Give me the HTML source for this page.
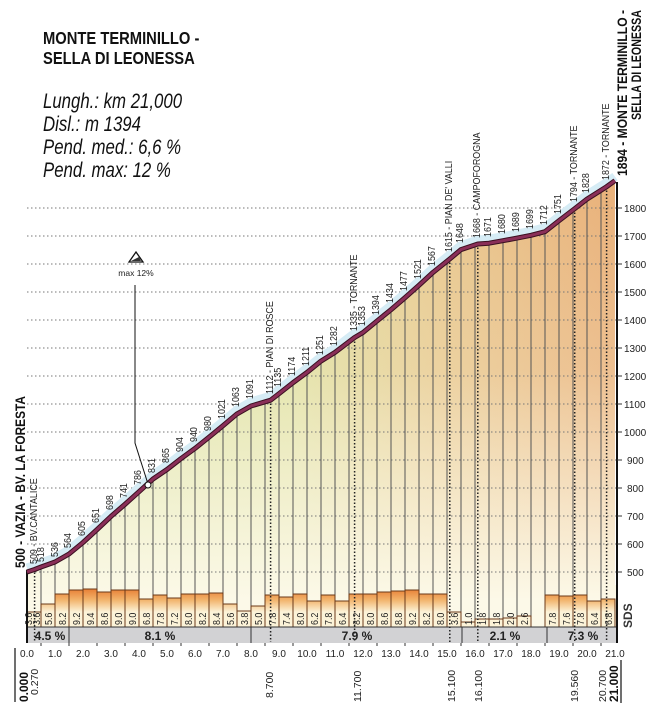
<!DOCTYPE html>
<html><head><meta charset="utf-8"><style>
html,body{margin:0;padding:0;background:#fff;}
svg{display:block;font-family:"Liberation Sans",sans-serif;}
.n{font-size:10.5px;fill:#222;}
.t{font-size:10px;fill:#222;}
</style></head><body>
<svg width="648" height="716" viewBox="0 0 648 716" xmlns="http://www.w3.org/2000/svg">
<defs>
<linearGradient id="hg" x1="27" y1="0" x2="617" y2="0" gradientUnits="userSpaceOnUse">
<stop offset="0" stop-color="#d9e4a6"/><stop offset="0.45" stop-color="#dfe0a0"/><stop offset="0.7" stop-color="#e8c88e"/><stop offset="1" stop-color="#e9b079"/>
</linearGradient>
<linearGradient id="vg" x1="0" y1="180" x2="0" y2="600" gradientUnits="userSpaceOnUse">
<stop offset="0" stop-color="#fcf9e8" stop-opacity="0"/><stop offset="0.45" stop-color="#fcf9e8" stop-opacity="0.2"/><stop offset="1" stop-color="#fcf9e8" stop-opacity="1"/>
</linearGradient>
<linearGradient id="bg" x1="0" y1="588" x2="0" y2="612" gradientUnits="userSpaceOnUse">
<stop offset="0" stop-color="#e77a30"/><stop offset="0.5" stop-color="#f2b46c"/><stop offset="1" stop-color="#fcf3d8"/>
</linearGradient>
</defs>

<g transform="translate(43,44) scale(0.82,1)"><text font-size="18" font-weight="bold" fill="#111">MONTE TERMINILLO -</text></g>
<g transform="translate(43,64) scale(0.82,1)"><text font-size="18" font-weight="bold" fill="#111">SELLA DI LEONESSA</text></g>
<g font-size="21" font-style="italic" fill="#111">
<g transform="translate(43,108) scale(0.8,1)"><text>Lungh.: km 21,000</text></g>
<g transform="translate(43,131) scale(0.8,1)"><text>Disl.: m 1394</text></g>
<g transform="translate(43,154) scale(0.8,1)"><text>Pend. med.: 6,6 %</text></g>
<g transform="translate(43,177) scale(0.8,1)"><text>Pend. max: 12 %</text></g>
</g>

<rect x="27" y="585" width="590" height="42" fill="#fcf8e6"/>

<polygon fill="url(#hg)" points="27,572 34.6,569.5 41,567 55,562 69,554 83,542.5 97,529.6 111,516.4 125,504.3 139,491.7 153,479 167,469.5 181,458.6 195,448.4 209,437.2 223,425.7 237,413.9 251,406 270.6,400.2 279,393.7 293,382.7 307,372.4 321,361.1 335,352.4 354.6,337.5 363,332.5 377,321 391,309.7 405,297.7 419,285.3 433,272.4 449.8,258.9 461,249.6 477.8,244 489,243.2 503,240.7 517,238.1 531,235.3 545,231.7 559,220.7 574.7,208.7 587,199.1 606.6,186.7 615,180.6 615,627 27,627"/>
<polygon fill="url(#vg)" points="27,572 34.6,569.5 41,567 55,562 69,554 83,542.5 97,529.6 111,516.4 125,504.3 139,491.7 153,479 167,469.5 181,458.6 195,448.4 209,437.2 223,425.7 237,413.9 251,406 270.6,400.2 279,393.7 293,382.7 307,372.4 321,361.1 335,352.4 354.6,337.5 363,332.5 377,321 391,309.7 405,297.7 419,285.3 433,272.4 449.8,258.9 461,249.6 477.8,244 489,243.2 503,240.7 517,238.1 531,235.3 545,231.7 559,220.7 574.7,208.7 587,199.1 606.6,186.7 615,180.6 615,627 27,627"/>

<g stroke="#777" stroke-width="1" stroke-dasharray="1.5 2.5">
<line x1="27" y1="208" x2="617" y2="208"/><line x1="27" y1="236" x2="617" y2="236"/><line x1="27" y1="264" x2="617" y2="264"/><line x1="27" y1="292" x2="617" y2="292"/><line x1="27" y1="320" x2="617" y2="320"/><line x1="27" y1="348" x2="617" y2="348"/><line x1="27" y1="376" x2="617" y2="376"/><line x1="27" y1="404" x2="617" y2="404"/><line x1="27" y1="432" x2="617" y2="432"/><line x1="27" y1="460" x2="617" y2="460"/><line x1="27" y1="488" x2="617" y2="488"/><line x1="27" y1="516" x2="617" y2="516"/><line x1="27" y1="544" x2="617" y2="544"/><line x1="27" y1="572" x2="617" y2="572"/>
</g>

<g stroke="#555" stroke-width="1">
<line x1="41" y1="567" x2="41" y2="627"/><line x1="55" y1="562" x2="55" y2="627"/><line x1="69" y1="554" x2="69" y2="627"/><line x1="83" y1="542" x2="83" y2="627"/><line x1="97" y1="530" x2="97" y2="627"/><line x1="111" y1="516" x2="111" y2="627"/><line x1="125" y1="504" x2="125" y2="627"/><line x1="139" y1="492" x2="139" y2="627"/><line x1="153" y1="479" x2="153" y2="627"/><line x1="167" y1="469" x2="167" y2="627"/><line x1="181" y1="458" x2="181" y2="627"/><line x1="195" y1="448" x2="195" y2="627"/><line x1="209" y1="437" x2="209" y2="627"/><line x1="223" y1="426" x2="223" y2="627"/><line x1="237" y1="414" x2="237" y2="627"/><line x1="251" y1="406" x2="251" y2="627"/><line x1="265" y1="402" x2="265" y2="627"/><line x1="279" y1="394" x2="279" y2="627"/><line x1="293" y1="383" x2="293" y2="627"/><line x1="307" y1="372" x2="307" y2="627"/><line x1="321" y1="361" x2="321" y2="627"/><line x1="335" y1="352" x2="335" y2="627"/><line x1="349" y1="342" x2="349" y2="627"/><line x1="363" y1="332" x2="363" y2="627"/><line x1="377" y1="321" x2="377" y2="627"/><line x1="391" y1="310" x2="391" y2="627"/><line x1="405" y1="298" x2="405" y2="627"/><line x1="419" y1="285" x2="419" y2="627"/><line x1="433" y1="272" x2="433" y2="627"/><line x1="447" y1="260" x2="447" y2="627"/><line x1="461" y1="250" x2="461" y2="627"/><line x1="475" y1="244" x2="475" y2="627"/><line x1="489" y1="243" x2="489" y2="627"/><line x1="503" y1="241" x2="503" y2="627"/><line x1="517" y1="238" x2="517" y2="627"/><line x1="531" y1="235" x2="531" y2="627"/><line x1="545" y1="232" x2="545" y2="627"/><line x1="559" y1="221" x2="559" y2="627"/><line x1="573" y1="210" x2="573" y2="627"/><line x1="587" y1="199" x2="587" y2="627"/><line x1="601" y1="190" x2="601" y2="627"/>
</g>

<g fill="url(#bg)" stroke="#6b3a1a" stroke-width="1">
<rect x="27" y="612" width="14" height="15"/><rect x="41" y="604" width="14" height="23"/><rect x="55" y="594" width="14" height="33"/><rect x="69" y="590" width="14" height="37"/><rect x="83" y="589" width="14" height="38"/><rect x="97" y="592" width="14" height="35"/><rect x="111" y="590" width="14" height="37"/><rect x="125" y="590" width="14" height="37"/><rect x="139" y="599" width="14" height="28"/><rect x="153" y="595" width="14" height="32"/><rect x="167" y="598" width="14" height="29"/><rect x="181" y="594" width="14" height="33"/><rect x="195" y="594" width="14" height="33"/><rect x="209" y="593" width="14" height="34"/><rect x="223" y="604" width="14" height="23"/><rect x="237" y="611" width="14" height="16"/><rect x="251" y="606" width="14" height="21"/><rect x="265" y="595" width="14" height="32"/><rect x="279" y="597" width="14" height="30"/><rect x="293" y="594" width="14" height="33"/><rect x="307" y="601" width="14" height="26"/><rect x="321" y="595" width="14" height="32"/><rect x="335" y="601" width="14" height="26"/><rect x="349" y="594" width="14" height="33"/><rect x="363" y="594" width="14" height="33"/><rect x="377" y="592" width="14" height="35"/><rect x="391" y="591" width="14" height="36"/><rect x="405" y="590" width="14" height="37"/><rect x="419" y="594" width="14" height="33"/><rect x="433" y="594" width="14" height="33"/><rect x="447" y="612" width="14" height="15"/><rect x="461" y="622" width="14" height="5"/><rect x="475" y="619" width="14" height="8"/><rect x="489" y="619" width="14" height="8"/><rect x="503" y="618" width="14" height="9"/><rect x="517" y="616" width="14" height="11"/><rect x="545" y="595" width="14" height="32"/><rect x="559" y="596" width="14" height="31"/><rect x="573" y="595" width="14" height="32"/><rect x="587" y="601" width="14" height="26"/><rect x="601" y="599" width="14" height="28"/>
</g>

<g class="n" font-size="10">
<text transform="translate(32,625) rotate(-90) scale(0.85,1)">3.6</text>
<text transform="translate(40,625) rotate(-90) scale(0.85,1)">3.6</text>
<text transform="translate(52,625) rotate(-90) scale(0.85,1)">5.6</text>
<text transform="translate(66,625) rotate(-90) scale(0.85,1)">8.2</text>
<text transform="translate(80,625) rotate(-90) scale(0.85,1)">9.2</text>
<text transform="translate(94,625) rotate(-90) scale(0.85,1)">9.4</text>
<text transform="translate(108,625) rotate(-90) scale(0.85,1)">8.6</text>
<text transform="translate(122,625) rotate(-90) scale(0.85,1)">9.0</text>
<text transform="translate(136,625) rotate(-90) scale(0.85,1)">9.0</text>
<text transform="translate(150,625) rotate(-90) scale(0.85,1)">6.8</text>
<text transform="translate(164,625) rotate(-90) scale(0.85,1)">7.8</text>
<text transform="translate(178,625) rotate(-90) scale(0.85,1)">7.2</text>
<text transform="translate(192,625) rotate(-90) scale(0.85,1)">8.0</text>
<text transform="translate(206,625) rotate(-90) scale(0.85,1)">8.2</text>
<text transform="translate(220,625) rotate(-90) scale(0.85,1)">8.4</text>
<text transform="translate(234,625) rotate(-90) scale(0.85,1)">5.6</text>
<text transform="translate(248,625) rotate(-90) scale(0.85,1)">3.8</text>
<text transform="translate(262,625) rotate(-90) scale(0.85,1)">5.0</text>
<text transform="translate(276,625) rotate(-90) scale(0.85,1)">7.8</text>
<text transform="translate(290,625) rotate(-90) scale(0.85,1)">7.4</text>
<text transform="translate(304,625) rotate(-90) scale(0.85,1)">8.0</text>
<text transform="translate(318,625) rotate(-90) scale(0.85,1)">6.2</text>
<text transform="translate(332,625) rotate(-90) scale(0.85,1)">7.8</text>
<text transform="translate(346,625) rotate(-90) scale(0.85,1)">6.4</text>
<text transform="translate(360,625) rotate(-90) scale(0.85,1)">8.2</text>
<text transform="translate(374,625) rotate(-90) scale(0.85,1)">8.0</text>
<text transform="translate(388,625) rotate(-90) scale(0.85,1)">8.6</text>
<text transform="translate(402,625) rotate(-90) scale(0.85,1)">8.8</text>
<text transform="translate(416,625) rotate(-90) scale(0.85,1)">9.2</text>
<text transform="translate(430,625) rotate(-90) scale(0.85,1)">8.2</text>
<text transform="translate(444,625) rotate(-90) scale(0.85,1)">8.0</text>
<text transform="translate(458,625) rotate(-90) scale(0.85,1)">3.6</text>
<text transform="translate(472,625) rotate(-90) scale(0.85,1)">1.0</text>
<text transform="translate(486,625) rotate(-90) scale(0.85,1)">1.8</text>
<text transform="translate(500,625) rotate(-90) scale(0.85,1)">1.8</text>
<text transform="translate(514,625) rotate(-90) scale(0.85,1)">2.0</text>
<text transform="translate(528,625) rotate(-90) scale(0.85,1)">2.6</text>
<text transform="translate(556,625) rotate(-90) scale(0.85,1)">7.8</text>
<text transform="translate(570,625) rotate(-90) scale(0.85,1)">7.6</text>
<text transform="translate(584,625) rotate(-90) scale(0.85,1)">7.8</text>
<text transform="translate(598,625) rotate(-90) scale(0.85,1)">6.4</text>
<text transform="translate(612,625) rotate(-90) scale(0.85,1)">6.8</text>
</g>

<rect x="27" y="627" width="590" height="16" fill="#d2d2d4"/>
<line x1="27" y1="627" x2="617" y2="627" stroke="#333"/>
<g stroke="#333"><line x1="69" y1="627" x2="69" y2="643"/><line x1="251" y1="627" x2="251" y2="643"/><line x1="462" y1="627" x2="462" y2="643"/><line x1="547" y1="627" x2="547" y2="643"/></g>
<g font-size="12" font-weight="bold" fill="#222" text-anchor="middle">
<text x="50" y="640">4.5 %</text><text x="160" y="640">8.1 %</text><text x="357" y="640">7.9 %</text><text x="505" y="640">2.1 %</text><text x="583" y="640">7.3 %</text>
</g>

<g stroke="#222" stroke-width="1.5" stroke-dasharray="1.5 2">
<line x1="34.6" y1="569" x2="34.6" y2="642"/><line x1="270.6" y1="400" x2="270.6" y2="642"/><line x1="354.6" y1="338" x2="354.6" y2="642"/><line x1="449.8" y1="259" x2="449.8" y2="642"/><line x1="477.8" y1="244" x2="477.8" y2="642"/><line x1="574.7" y1="209" x2="574.7" y2="642"/><line x1="606.6" y1="187" x2="606.6" y2="642"/>
</g>

<line x1="27" y1="570" x2="27" y2="643" stroke="#111" stroke-width="2"/>
<line x1="617" y1="182" x2="617" y2="643" stroke="#111" stroke-width="2"/>

<polyline fill="none" stroke="#d6ecf5" stroke-width="9" stroke-linejoin="round" transform="translate(0,-4)" points="27,572 34.6,569.5 41,567 55,562 69,554 83,542.5 97,529.6 111,516.4 125,504.3 139,491.7 153,479 167,469.5 181,458.6 195,448.4 209,437.2 223,425.7 237,413.9 251,406 270.6,400.2 279,393.7 293,382.7 307,372.4 321,361.1 335,352.4 354.6,337.5 363,332.5 377,321 391,309.7 405,297.7 419,285.3 433,272.4 449.8,258.9 461,249.6 477.8,244 489,243.2 503,240.7 517,238.1 531,235.3 545,231.7 559,220.7 574.7,208.7 587,199.1 606.6,186.7 615,180.6"/>
<polyline fill="none" stroke="#3a1020" stroke-width="5" stroke-linejoin="round" points="27,572 34.6,569.5 41,567 55,562 69,554 83,542.5 97,529.6 111,516.4 125,504.3 139,491.7 153,479 167,469.5 181,458.6 195,448.4 209,437.2 223,425.7 237,413.9 251,406 270.6,400.2 279,393.7 293,382.7 307,372.4 321,361.1 335,352.4 354.6,337.5 363,332.5 377,321 391,309.7 405,297.7 419,285.3 433,272.4 449.8,258.9 461,249.6 477.8,244 489,243.2 503,240.7 517,238.1 531,235.3 545,231.7 559,220.7 574.7,208.7 587,199.1 606.6,186.7 615,180.6"/>
<polyline fill="none" stroke="#8a2f58" stroke-width="3" stroke-linejoin="round" points="27,572 34.6,569.5 41,567 55,562 69,554 83,542.5 97,529.6 111,516.4 125,504.3 139,491.7 153,479 167,469.5 181,458.6 195,448.4 209,437.2 223,425.7 237,413.9 251,406 270.6,400.2 279,393.7 293,382.7 307,372.4 321,361.1 335,352.4 354.6,337.5 363,332.5 377,321 391,309.7 405,297.7 419,285.3 433,272.4 449.8,258.9 461,249.6 477.8,244 489,243.2 503,240.7 517,238.1 531,235.3 545,231.7 559,220.7 574.7,208.7 587,199.1 606.6,186.7 615,180.6"/>

<polyline fill="none" stroke="#111" stroke-width="1" points="135,285 135,443 148,484"/>
<circle cx="148" cy="485" r="3" fill="#fff" stroke="#111"/>
<path d="M129,262 L136,252 L143,262 Z" fill="#fff" stroke="#111" stroke-width="1.3"/>
<path d="M131,261 L141,261 L139,257 Z" fill="#333"/>
<text x="136" y="276" font-size="8.5" text-anchor="middle" fill="#222">max 12%</text>

<g class="n">
<text transform="translate(44,562) rotate(-90) scale(0.85,1)">518</text>
<text transform="translate(58,557) rotate(-90) scale(0.85,1)">536</text>
<text transform="translate(71,548) rotate(-90) scale(0.85,1)">564</text>
<text transform="translate(85,536) rotate(-90) scale(0.85,1)">605</text>
<text transform="translate(99,523) rotate(-90) scale(0.85,1)">651</text>
<text transform="translate(113,510) rotate(-90) scale(0.85,1)">698</text>
<text transform="translate(127,498) rotate(-90) scale(0.85,1)">741</text>
<text transform="translate(141,485) rotate(-90) scale(0.85,1)">786</text>
<text transform="translate(155,473) rotate(-90) scale(0.85,1)">831</text>
<text transform="translate(169,463) rotate(-90) scale(0.85,1)">865</text>
<text transform="translate(183,452) rotate(-90) scale(0.85,1)">904</text>
<text transform="translate(197,442) rotate(-90) scale(0.85,1)">940</text>
<text transform="translate(211,431) rotate(-90) scale(0.85,1)">980</text>
<text transform="translate(225,419) rotate(-90) scale(0.85,1)">1021</text>
<text transform="translate(239,407) rotate(-90) scale(0.85,1)">1063</text>
<text transform="translate(253,399) rotate(-90) scale(0.85,1)">1091</text>
<text transform="translate(281,387) rotate(-90) scale(0.85,1)">1135</text>
<text transform="translate(295,376) rotate(-90) scale(0.85,1)">1174</text>
<text transform="translate(309,366) rotate(-90) scale(0.85,1)">1211</text>
<text transform="translate(323,355) rotate(-90) scale(0.85,1)">1251</text>
<text transform="translate(337,346) rotate(-90) scale(0.85,1)">1282</text>
<text transform="translate(365,326) rotate(-90) scale(0.85,1)">1353</text>
<text transform="translate(379,315) rotate(-90) scale(0.85,1)">1394</text>
<text transform="translate(393,303) rotate(-90) scale(0.85,1)">1434</text>
<text transform="translate(407,291) rotate(-90) scale(0.85,1)">1477</text>
<text transform="translate(421,279) rotate(-90) scale(0.85,1)">1521</text>
<text transform="translate(435,266) rotate(-90) scale(0.85,1)">1567</text>
<text transform="translate(463,243) rotate(-90) scale(0.85,1)">1648</text>
<text transform="translate(491,237) rotate(-90) scale(0.85,1)">1671</text>
<text transform="translate(505,234) rotate(-90) scale(0.85,1)">1680</text>
<text transform="translate(519,232) rotate(-90) scale(0.85,1)">1689</text>
<text transform="translate(533,229) rotate(-90) scale(0.85,1)">1699</text>
<text transform="translate(547,225) rotate(-90) scale(0.85,1)">1712</text>
<text transform="translate(561,214) rotate(-90) scale(0.85,1)">1751</text>
<text transform="translate(589,193) rotate(-90) scale(0.85,1)">1828</text>
<text transform="translate(37,564) rotate(-90) scale(0.85,1)">509 - BV.CANTALICE</text>
<text transform="translate(273,394) rotate(-90) scale(0.85,1)">1112 - PIAN DI ROSCE</text>
<text transform="translate(357,331) rotate(-90) scale(0.85,1)">1335 - TORNANTE</text>
<text transform="translate(452,252) rotate(-90) scale(0.85,1)">1615 - PIAN DE' VALLI</text>
<text transform="translate(480,238) rotate(-90) scale(0.85,1)">1668 - CAMPOFOROGNA</text>
<text transform="translate(577,202) rotate(-90) scale(0.85,1)">1794 - TORNANTE</text>
<text transform="translate(609,180) rotate(-90) scale(0.85,1)">1872 - TORNANTE</text>
</g>
<g font-size="13.5" font-weight="bold" fill="#111">
<text transform="translate(25,568) rotate(-90)" textLength="172" lengthAdjust="spacingAndGlyphs">500 - VAZIA - BV. LA FORESTA</text>
<text transform="translate(627,176) rotate(-90)" textLength="166" lengthAdjust="spacingAndGlyphs">1894 - MONTE TERMINILLO -</text>
<text transform="translate(641,120) rotate(-90)" textLength="110" lengthAdjust="spacingAndGlyphs">SELLA DI LEONESSA</text>
</g>

<g class="t">
<text x="624" y="212">1800</text><text x="624" y="240">1700</text><text x="624" y="268">1600</text><text x="624" y="296">1500</text><text x="624" y="324">1400</text><text x="624" y="352">1300</text><text x="624" y="380">1200</text><text x="624" y="408">1100</text><text x="624" y="436">1000</text><text x="627" y="464">900</text><text x="627" y="492">800</text><text x="627" y="520">700</text><text x="627" y="548">600</text><text x="627" y="576">500</text>
</g>
<g stroke="#333"><line x1="617" y1="208" x2="622" y2="208"/><line x1="617" y1="236" x2="622" y2="236"/><line x1="617" y1="264" x2="622" y2="264"/><line x1="617" y1="292" x2="622" y2="292"/><line x1="617" y1="320" x2="622" y2="320"/><line x1="617" y1="348" x2="622" y2="348"/><line x1="617" y1="376" x2="622" y2="376"/><line x1="617" y1="404" x2="622" y2="404"/><line x1="617" y1="432" x2="622" y2="432"/><line x1="617" y1="460" x2="622" y2="460"/><line x1="617" y1="488" x2="622" y2="488"/><line x1="617" y1="516" x2="622" y2="516"/><line x1="617" y1="544" x2="622" y2="544"/><line x1="617" y1="572" x2="622" y2="572"/></g>
<text transform="translate(632,628) rotate(-90)" font-size="12" font-weight="bold" fill="#333">SDS</text>

<g stroke="#333"><line x1="41" y1="643" x2="41" y2="646"/><line x1="69" y1="643" x2="69" y2="646"/><line x1="97" y1="643" x2="97" y2="646"/><line x1="125" y1="643" x2="125" y2="646"/><line x1="153" y1="643" x2="153" y2="646"/><line x1="181" y1="643" x2="181" y2="646"/><line x1="209" y1="643" x2="209" y2="646"/><line x1="237" y1="643" x2="237" y2="646"/><line x1="265" y1="643" x2="265" y2="646"/><line x1="293" y1="643" x2="293" y2="646"/><line x1="321" y1="643" x2="321" y2="646"/><line x1="349" y1="643" x2="349" y2="646"/><line x1="377" y1="643" x2="377" y2="646"/><line x1="405" y1="643" x2="405" y2="646"/><line x1="433" y1="643" x2="433" y2="646"/><line x1="461" y1="643" x2="461" y2="646"/><line x1="489" y1="643" x2="489" y2="646"/><line x1="517" y1="643" x2="517" y2="646"/><line x1="545" y1="643" x2="545" y2="646"/><line x1="573" y1="643" x2="573" y2="646"/><line x1="601" y1="643" x2="601" y2="646"/></g>
<g class="t" text-anchor="middle" font-size="9.5">
<text x="27" y="657">0.0</text><text x="55" y="657">1.0</text><text x="83" y="657">2.0</text><text x="111" y="657">3.0</text><text x="139" y="657">4.0</text><text x="167" y="657">5.0</text><text x="195" y="657">6.0</text><text x="223" y="657">7.0</text><text x="251" y="657">8.0</text><text x="279" y="657">9.0</text><text x="307" y="657">10.0</text><text x="335" y="657">11.0</text><text x="363" y="657">12.0</text><text x="391" y="657">13.0</text><text x="419" y="657">14.0</text><text x="447" y="657">15.0</text><text x="475" y="657">16.0</text><text x="503" y="657">17.0</text><text x="531" y="657">18.0</text><text x="559" y="657">19.0</text><text x="587" y="657">20.0</text><text x="615" y="657">21.0</text>
</g>
<g class="n">
<text transform="translate(38,695) rotate(-90)">0.270</text>
<text transform="translate(273,698) rotate(-90)">8.700</text>
<text transform="translate(361,702) rotate(-90)">11.700</text>
<text transform="translate(455,702) rotate(-90)">15.100</text>
<text transform="translate(482,702) rotate(-90)">16.100</text>
<text transform="translate(578,702) rotate(-90)">19.560</text>
<text transform="translate(606,702) rotate(-90)">20.700</text>
</g>
<g font-size="12" font-weight="bold" fill="#111">
<text transform="translate(28,702) rotate(-90)">0.000</text>
<text transform="translate(618,702) rotate(-90)">21.000</text>
</g>
<line x1="15" y1="648" x2="15" y2="702" stroke="#111" stroke-width="1.2"/>
<line x1="621" y1="660" x2="621" y2="703" stroke="#111" stroke-width="1.2"/>
</svg>
</body></html>
